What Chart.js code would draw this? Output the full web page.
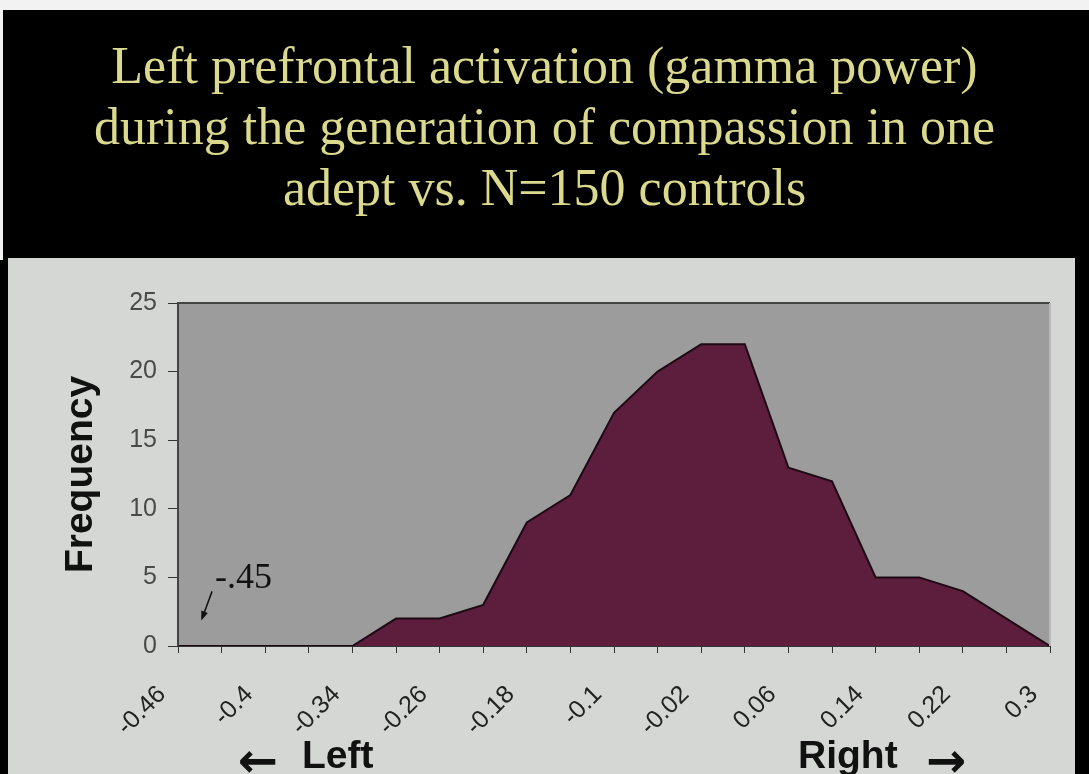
<!DOCTYPE html>
<html>
<head>
<meta charset="utf-8">
<script src="https://cdn.jsdelivr.net/npm/chart.js@4.4.0/dist/chart.umd.min.js"></script>
<style>
  html, body { margin: 0; padding: 0; }
  body { width: 1089px; height: 774px; background: #000; position: relative; overflow: hidden; }
  #topbar { position: absolute; left: 0; top: 0; width: 1089px; height: 10px; background: #f2f2f2; }
  #leftbar { position: absolute; left: 0; top: 0; width: 3px; height: 260px; background: #f2f2f2; }
  #title {
    position: absolute; left: 0; top: 35px; width: 1089px;
    text-align: center; color: #dad98e;
    font-family: "Liberation Serif", "DejaVu Serif", serif;
    font-size: 52px; line-height: 61px;
  }
  #panel { position: absolute; left: 8px; top: 258px; width: 1067px; height: 516px; background: #d5d7d5; overflow: hidden; }
  #myChart { position: absolute; left: 0; top: 0; }
  .dir { position: absolute; font-family: "Liberation Sans", Arial, sans-serif; font-weight: bold;
         font-size: 39px; color: #111; top: 477px; white-space: nowrap; line-height: 1; }
  .arrow { position: absolute; font-family: "DejaVu Sans", sans-serif; font-weight: bold; font-size: 48px;
           color: #111; top: 478px; line-height: 1; }
</style>
</head>
<body>
<div id="topbar"></div>
<div id="leftbar"></div>
<div id="title">Left prefrontal activation (gamma power)<br>during the generation of compassion in one<br>adept vs. N=150 controls</div>
<div id="panel">
  <canvas id="myChart" width="1067" height="516"></canvas>
  <div class="arrow" style="left:230px;">←</div>
  <div class="dir" style="left:294px;">Left</div>
  <div class="dir" style="left:790px;">Right</div>
  <div class="arrow" style="left:918px;">→</div>
</div>
<script>
const categories = ['-0.46', '-0.43', '-0.4', '-0.37', '-0.34', '-0.3', '-0.26', '-0.22', '-0.18', '-0.14',
  '-0.1', '-0.06', '-0.02', '0.02', '0.06', '0.1', '0.14', '0.18', '0.22', '0.26', '0.3'];
const frequency = [0, 0, 0, 0, 0, 2, 2, 3, 9, 11, 17, 20, 22, 22, 13, 12, 5, 5, 4, 2, 0];
const yTicks = [0, 5, 10, 15, 20, 25];
const adeptLabel = '-.45';

const plotDecor = {
  id: 'plotDecor',
  beforeDraw(chart) {
    const { ctx, chartArea: a } = chart;
    ctx.save();
    ctx.fillStyle = '#9b9c9b';
    ctx.fillRect(a.left, a.top, a.right - a.left, a.bottom - a.top);
    ctx.restore();
  },
  afterDraw(chart) {
    const { ctx, chartArea: a, scales } = chart;
    ctx.save();
    ctx.strokeStyle = '#444';
    ctx.lineWidth = 2;
    ctx.beginPath();
    ctx.moveTo(a.left, a.bottom);
    ctx.lineTo(a.left, a.top);
    ctx.lineTo(a.right, a.top);
    ctx.stroke();
    ctx.strokeStyle = '#b8b8b8';
    ctx.beginPath();
    ctx.moveTo(a.right, a.top);
    ctx.lineTo(a.right, a.bottom);
    ctx.stroke();

    // adept marker
    const tx = scales.x.getPixelForValue(0.85);
    const ty = scales.y.getPixelForValue(4.2);
    ctx.fillStyle = '#111';
    ctx.font = '36px "Liberation Serif", serif';
    ctx.textBaseline = 'alphabetic';
    ctx.fillText(adeptLabel, tx, ty);
    const x0 = tx - 3, y0 = ty + 3;
    const x1 = tx - 13, y1 = scales.y.getPixelForValue(2);
    ctx.strokeStyle = '#111';
    ctx.lineWidth = 1.5;
    ctx.beginPath();
    ctx.moveTo(x0, y0);
    ctx.lineTo(x1, y1);
    ctx.stroke();
    const ang = Math.atan2(y1 - y0, x1 - x0);
    ctx.beginPath();
    ctx.moveTo(x1 + 2 * Math.cos(ang), y1 + 2 * Math.sin(ang));
    ctx.lineTo(x1 - 8 * Math.cos(ang - 0.45), y1 - 8 * Math.sin(ang - 0.45));
    ctx.lineTo(x1 - 8 * Math.cos(ang + 0.45), y1 - 8 * Math.sin(ang + 0.45));
    ctx.closePath();
    ctx.fill();
    ctx.restore();
  }
};

new Chart(document.getElementById('myChart').getContext('2d'), {
  type: 'line',
  data: {
    labels: categories,
    datasets: [{
      data: frequency,
      fill: 'origin',
      backgroundColor: '#5d1d3d',
      borderColor: '#1e0a14',
      borderWidth: 2,
      pointRadius: 0,
      tension: 0
    }]
  },
  options: {
    responsive: false,
    animation: false,
    devicePixelRatio: 1,
    layout: { padding: { top: 45, right: 25, left: 0, bottom: 0 } },
    plugins: {
      legend: { display: false },
      tooltip: { enabled: false }
    },
    scales: {
      x: {
        offset: false,
        border: { display: true, color: '#333', width: 2 },
        grid: { drawOnChartArea: false, drawTicks: true, tickLength: 7, color: '#333' },
        ticks: {
          autoSkip: false,
          minRotation: 45,
          maxRotation: 45,
          padding: 27,
          labelOffset: -16,
          color: '#222',
          font: { family: '"Liberation Sans", Arial, sans-serif', size: 25 },
          callback: (v, i) => (i % 2 === 0 ? categories[i] : '')
        },
        afterFit: s => { s.height = 128; s.paddingLeft = 0; s.paddingRight = 0; }
      },
      y: {
        min: 0,
        max: 25,
        border: { display: true, color: '#333', width: 2 },
        grid: { drawOnChartArea: false, drawTicks: true, tickLength: 10, color: '#333' },
        afterBuildTicks: s => { s.ticks = yTicks.map(v => ({ value: v })); },
        ticks: {
          padding: 11,
          color: '#4a4a4a',
          font: { family: '"Liberation Sans", Arial, sans-serif', size: 25 }
        },
        title: {
          display: true,
          text: 'Frequency',
          color: '#111',
          padding: { top: 50, bottom: 0 },
          font: { family: '"Liberation Sans", Arial, sans-serif', size: 39, weight: 'bold' }
        },
        afterFit: s => { s.width = 170; s.paddingTop = 0; s.paddingBottom = 0; }
      }
    }
  },
  plugins: [plotDecor]
});
</script>
</body>
</html>
